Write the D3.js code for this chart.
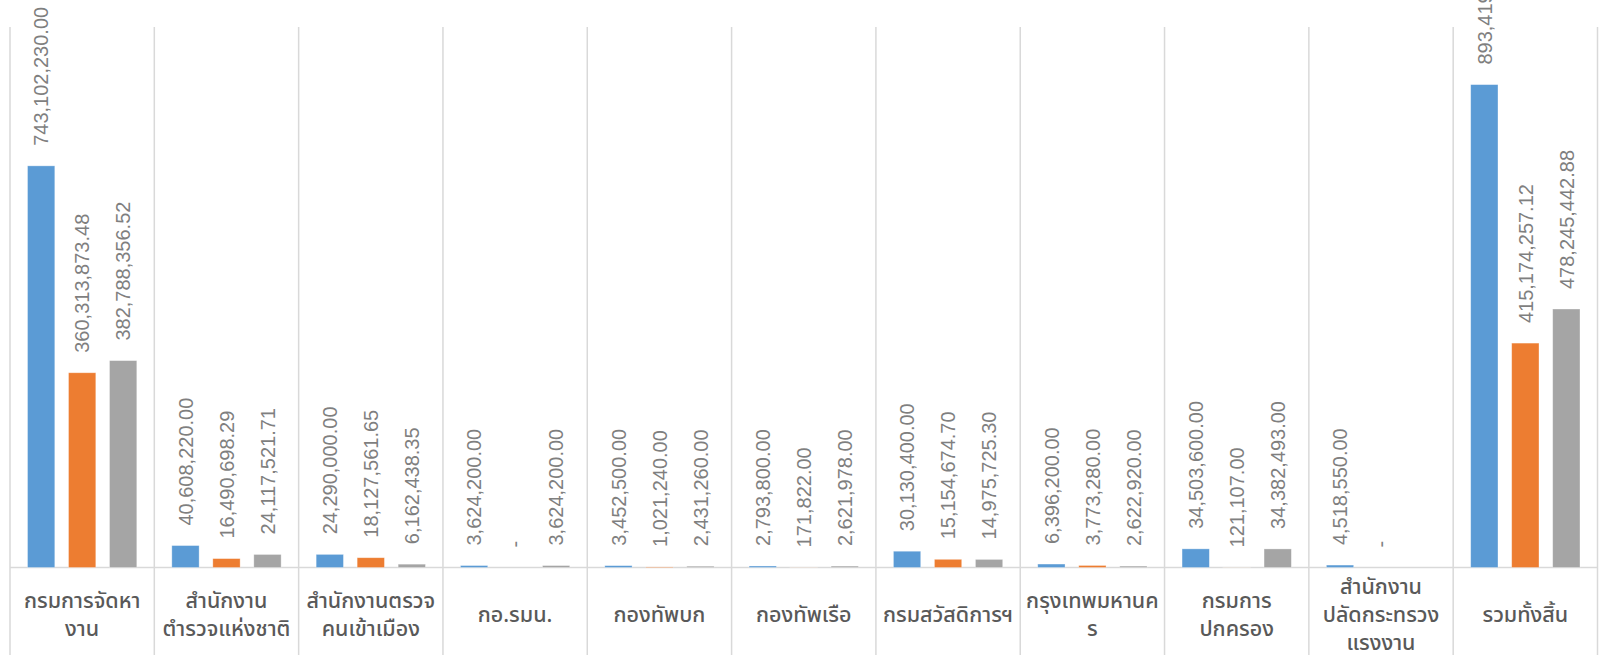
<!DOCTYPE html>
<html>
<head>
<meta charset="utf-8">
<script src="https://cdn.jsdelivr.net/npm/d3@7"></script>
<style>
html,body{margin:0;padding:0;background:#fff;}
svg{display:block;}
</style>
</head>
<body>
<svg id="chart" width="1606" height="655"></svg>
<script>
const categories = [
  ["กรมการจัดหา","งาน"],
  ["สำนักงาน","ตำรวจแห่งชาติ"],
  ["สำนักงานตรวจ","คนเข้าเมือง"],
  ["กอ.รมน."],
  ["กองทัพบก"],
  ["กองทัพเรือ"],
  ["กรมสวัสดิการฯ"],
  ["กรุงเทพมหานค","ร"],
  ["กรมการ","ปกครอง"],
  ["สำนักงาน","ปลัดกระทรวง","แรงงาน"],
  ["รวมทั้งสิ้น"]
];
const seriesNames = ["s1","s2","s3"];
const series1 = [743102230.00, 40608220.00, 24290000.00, 3624200.00, 3452500.00, 2793800.00, 30130400.00, 6396200.00, 34503600.00, 4518550.00, 893419700.00];
const series2 = [360313873.48, 16490698.29, 18127561.65, 0, 1021240.00, 171822.00, 15154674.70, 3773280.00, 121107.00, 0, 415174257.12];
const series3 = [382788356.52, 24117521.71, 6162438.35, 3624200.00, 2431260.00, 2621978.00, 14975725.30, 2622920.00, 34382493.00, null, 478245442.88];
const colors = ["#5B9BD5", "#ED7D31", "#A5A5A5"];

(function(){
const svg = d3.select("#chart");
const pLeft = 10, pRight = 1597.5, pTop = 27, base = 567.5;

const catIdx = categories.map((d,i)=>i);
const x = d3.scaleBand().domain(catIdx).range([pLeft, pRight]).padding(0);
const xs = d3.scaleBand().domain(seriesNames).range([0, x.bandwidth()]).paddingInner(0.334).paddingOuter(0.427);
const y = d3.scaleLinear().domain([0, 1000000000]).range([base, pTop]);

const bounds = catIdx.map(i => x(i)).concat([pRight]);
svg.append("g").selectAll("line").data(bounds).join("line")
  .attr("x1", d=>d).attr("x2", d=>d)
  .attr("y1", pTop).attr("y2", 655)
  .attr("stroke", "#d9d9d9").attr("stroke-width", 1.5);

svg.append("line").attr("x1", pLeft).attr("x2", pRight).attr("y1", base).attr("y2", base)
  .attr("stroke", "#d9d9d9").attr("stroke-width", 1.5);

const allSeries = [series1, series2, series3];
const fmt = d3.format(",.2f");

allSeries.forEach((vals, si) => {
  const g = svg.append("g");
  const data = vals.map((v,i)=>({i, v})).filter(d => d.v !== null);
  g.selectAll("rect").data(data.filter(d=>d.v>0)).join("rect")
    .attr("x", d => x(d.i) + xs(seriesNames[si]))
    .attr("width", xs.bandwidth())
    .attr("y", d => y(d.v))
    .attr("height", d => base - y(d.v))
    .attr("fill", colors[si])
    .attr("stroke", "rgba(255,255,255,0.45)")
    .attr("stroke-width", 0.75);
  g.selectAll("text").data(data).join("text")
    .attr("transform", d => {
      const cx = x(d.i) + xs(seriesNames[si]) + xs.bandwidth()/2;
      const ty = y(d.v) - 20;
      return `translate(${cx},${ty}) rotate(-90)`;
    })
    .attr("text-anchor", "start")
    .attr("dy", "0.36em")
    .attr("font-family", "'Liberation Sans', Arial, sans-serif")
    .attr("font-size", 20)
    .attr("fill", "#7f7f7f")
    .text(d => d.v === 0 ? "-" : fmt(d.v));
});

const lh = 28, cy = 614;
const lab = svg.append("g");
categories.forEach((lines, i) => {
  const cx = x(i) + x.bandwidth()/2;
  const t = lab.append("text")
    .attr("text-anchor", "middle")
    .attr("font-family", "'Noto Sans Thai', 'Noto Sans', Tahoma, sans-serif")
    .attr("font-size", 21.5)
    .attr("font-weight", 500)
    .attr("fill", "#595959");
  const n = lines.length;
  lines.forEach((ln, k) => {
    t.append("tspan").attr("x", cx)
      .attr("y", cy + (k - (n-1)/2) * lh)
      .attr("dy", "0.36em")
      .text(ln);
  });
});
})();
</script>
</body>
</html>
